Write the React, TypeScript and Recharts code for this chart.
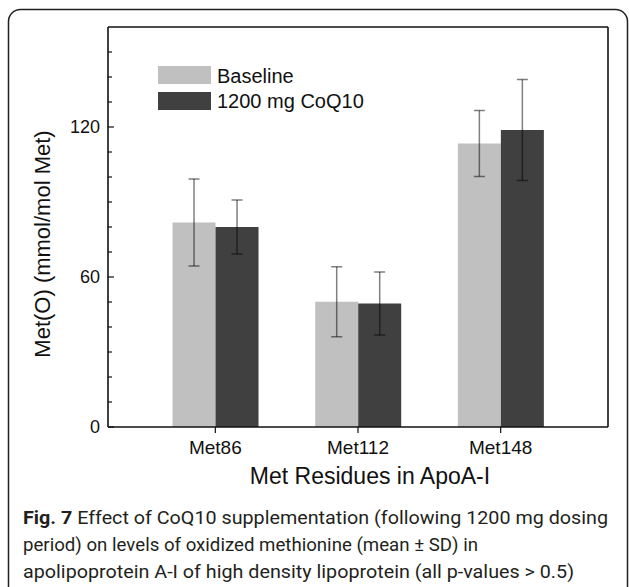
import React from 'react';
import { BarChart, Bar, XAxis, YAxis, ErrorBar, Legend, Label } from 'recharts';

const categories = ['Met86', 'Met112', 'Met148'];
const baselineMean = [81.8, 50.1, 113.4];
const baselineSD = [17.4, 14.0, 13.2];
const coq10Mean = [80.0, 49.4, 118.8];
const coq10SD = [10.8, 12.6, 20.2];
const seriesNames = ['Baseline', '1200 mg CoQ10'];
const seriesColors = ['#c0c0c0', '#404040'];
const yTicks = [0, 10, 20, 30, 40, 50, 60, 70, 80, 90, 100, 110, 120, 130, 140, 150];
const yMajorTicks = [0, 60, 120];
const xTitle = 'Met Residues in ApoA-I';
const yTitle = 'Met(O) (mmol/mol Met)';
const captionBold = 'Fig. 7';
const captionLines = [
  ' Effect of CoQ10 supplementation (following 1200 mg dosing',
  'period) on levels of oxidized methionine (mean \u00b1 SD) in',
  'apolipoprotein A-I of high density lipoprotein (all p-values > 0.5)',
];

const data = categories.map((name, i) => ({
  name,
  base: baselineMean[i],
  baseSD: baselineSD[i],
  coq: coq10Mean[i],
  coqSD: coq10SD[i],
}));

const FONT = '"Liberation Sans", Arial, sans-serif';
const INK = '#111';

const YTick = (props: any) => {
  const { x, y, payload } = props;
  const major = yMajorTicks.includes(payload.value);
  return (
    <g>
      <line x1={x} x2={x + (major ? 6 : 4)} y1={y} y2={y} stroke={INK} strokeWidth={1.2} />
      {major && (
        <text x={x - 8} y={y} dy="0.36em" textAnchor="end" fontFamily={FONT} fontSize={18} fill={INK}>
          {payload.value}
        </text>
      )}
    </g>
  );
};

const renderLegend = (props: any) => {
  const payload = [...(props.payload || [])].sort(
    (a: any, b: any) => seriesNames.indexOf(a.value) - seriesNames.indexOf(b.value)
  );
  return (
    <div style={{ position: 'relative', width: 260, height: 46 }}>
      {payload.map((e: any, i: number) => (
        <div
          key={i}
          style={{ position: 'absolute', left: 0, top: i * 25.7, height: 18, display: 'flex', alignItems: 'center' }}
        >
          <div style={{ width: 53, height: 18, background: e.color }} />
          <span
            style={{
              marginLeft: 6,
              fontFamily: FONT,
              fontSize: 20,
              color: INK,
              lineHeight: '18px',
              whiteSpace: 'nowrap',
              paddingTop: 1,
            }}
          >
            {e.value}
          </span>
        </div>
      ))}
    </div>
  );
};

export default function App() {
  return (
    <div style={{ position: 'absolute', left: 0, top: 0, width: 629, height: 587, background: '#fff', overflow: 'hidden' }}>
      <BarChart
        width={629}
        height={587}
        data={data}
        margin={{ top: 26, right: 20, bottom: 100, left: 0 }}
        barCategoryGap="20%"
        barGap={0}
      >
        <XAxis
          dataKey="name"
          type="category"
          padding={{ left: 36, right: 36 }}
          height={60}
          tickSize={6}
          tickMargin={8}
          tickLine={{ stroke: INK, strokeWidth: 1.2 }}
          axisLine={{ stroke: INK, strokeWidth: 1.6 }}
          tick={{ fill: INK, fontSize: 19, fontFamily: FONT }}
        >
          <Label
            content={(p: any) => {
              const vb = p.viewBox;
              return (
                <text
                  x={vb.x + vb.width / 2 + 12}
                  y={vb.y + vb.height - 3}
                  textAnchor="middle"
                  fontFamily={FONT}
                  fontSize={23}
                  fill={INK}
                >
                  {xTitle}
                </text>
              );
            }}
          />
        </XAxis>
        <XAxis
          xAxisId="top"
          orientation="top"
          dataKey="name"
          height={1}
          padding={{ left: 36, right: 36 }}
          tick={false}
          tickLine={false}
          axisLine={{ stroke: INK, strokeWidth: 1.6 }}
        />
        <YAxis
          width={108}
          domain={[0, 160]}
          ticks={yTicks}
          interval={0}
          allowDataOverflow
          tickSize={0}
          tickMargin={0}
          tickLine={false}
          tick={<YTick />}
          axisLine={{ stroke: INK, strokeWidth: 1.6 }}
        >
          <Label
            content={(p: any) => {
              const vb = p.viewBox;
              const cx = vb.x + 50;
              const cy = vb.y + vb.height / 2 + 17;
              return (
                <text
                  x={0}
                  y={0}
                  transform={`translate(${cx},${cy}) rotate(-90)`}
                  textAnchor="middle"
                  fontFamily={FONT}
                  fontSize={22}
                  fill={INK}
                >
                  {yTitle}
                </text>
              );
            }}
          />
        </YAxis>
        <YAxis
          yAxisId="right"
          orientation="right"
          width={1}
          domain={[0, 160]}
          ticks={yMajorTicks}
          tick={false}
          tickLine={false}
          axisLine={{ stroke: INK, strokeWidth: 1.6 }}
        />
        <Legend
          layout="horizontal"
          verticalAlign="middle"
          align="center"
          content={renderLegend}
          wrapperStyle={{ left: 158, top: 66, width: 260, height: 46 }}
        />
        <Bar dataKey="base" name={seriesNames[0]} fill={seriesColors[0]} isAnimationActive={false}>
          <ErrorBar dataKey="baseSD" width={5.5} stroke="#000" strokeOpacity={0.5} strokeWidth={1.5} direction="y" />
        </Bar>
        <Bar dataKey="coq" name={seriesNames[1]} fill={seriesColors[1]} isAnimationActive={false}>
          <ErrorBar dataKey="coqSD" width={5.5} stroke="#000" strokeOpacity={0.5} strokeWidth={1.5} direction="y" />
        </Bar>
      </BarChart>
      <svg
        width={629}
        height={587}
        style={{ position: 'absolute', left: 0, top: 0, pointerEvents: 'none' }}
      >
        <rect x={8.5} y={9.5} width={619} height={620} rx={12} ry={12} fill="none" stroke="#231f20" strokeWidth={1.5} />
        <text
          x={23}
          y={524}
          fontFamily="Roboto, sans-serif"
          fontSize={19}
          fill="#231f20"
          textLength={585}
          lengthAdjust="spacingAndGlyphs"
        >
          <tspan fontWeight={700}>{captionBold}</tspan>
          {captionLines[0]}
        </text>
        <text
          x={23}
          y={551}
          fontFamily="Roboto, sans-serif"
          fontSize={19}
          fill="#231f20"
          textLength={455}
          lengthAdjust="spacingAndGlyphs"
        >
          {captionLines[1]}
        </text>
        <text
          x={23}
          y={578}
          fontFamily="Roboto, sans-serif"
          fontSize={19}
          fill="#231f20"
          textLength={551}
          lengthAdjust="spacingAndGlyphs"
        >
          {captionLines[2]}
        </text>
      </svg>
    </div>
  );
}
